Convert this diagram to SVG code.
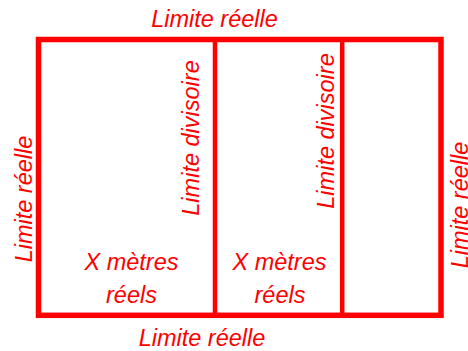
<svg xmlns="http://www.w3.org/2000/svg" width="468" height="351" viewBox="0 0 468 351">
<style>
.t{font-family:"Liberation Sans",Arial,sans-serif;font-style:italic;font-size:23.5px;fill:#ff0000;text-anchor:middle}
.b{fill:none;stroke:#ff0000}
</style>
<rect width="468" height="351" fill="#ffffff"/>
<g id="plot">
<rect class="b" x="38.5" y="39.5" width="402.5" height="275.8" stroke-width="5.5"/>
</g>
<g id="connectors">
<line class="b" x1="215" y1="40" x2="215" y2="315" stroke-width="4.5"/>
<line class="b" x1="342.2" y1="40" x2="342.2" y2="315" stroke-width="4.5"/>
</g>
<g id="labels">
<text class="t" x="214.5" y="26.5">Limite réelle</text>
<text class="t" x="202" y="346">Limite réelle</text>
<text class="t" transform="translate(32.3,199) rotate(-90)">Limite réelle</text>
<text class="t" transform="translate(467.5,205) rotate(-90)">Limite réelle</text>
<text class="t" transform="translate(199,138) rotate(-90)">Limite divisoire</text>
<text class="t" transform="translate(334,131) rotate(-90)">Limite divisoire</text>
<text class="t" x="131.5" y="270">X mètres</text>
<text class="t" x="131.5" y="302.5">réels</text>
<text class="t" x="279.5" y="270">X mètres</text>
<text class="t" x="280" y="302.5">réels</text>
</g>
</svg>
